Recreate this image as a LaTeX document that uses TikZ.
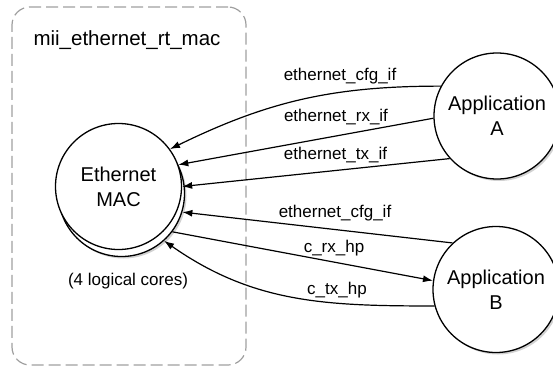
\documentclass[tikz,border=0pt]{standalone}
\usepackage{fontspec}
\setmainfont{Liberation Sans}
\usetikzlibrary{arrows.meta,shadows}

\begin{document}
\begin{tikzpicture}[x=1pt, y=1pt,
		proc/.style={circle, draw, line width=1.3pt, fill=white, minimum size=126pt, inner sep=0pt, align=center, font=\fontsize{20}{25}\selectfont},
		procshadow/.style={drop shadow={shadow xshift=2pt, shadow yshift=-2pt, fill=gray!70}},
		link/.style={line width=1.2pt, -{Latex[length=10pt,width=7pt]}},
		lbl/.style={font=\fontsize{17}{20}\selectfont}]
				
				\useasboundingbox (0, 0) rectangle (553, 368);
				
				%Component box
				\node[draw=gray!75, dash pattern=on 12pt off 5pt, line width=1.2pt, rounded corners=18pt, minimum width=234pt, minimum height=358pt] (comp) at (129, 182) {};
				\node[font=\fontsize{20.5}{24}\selectfont] (compname) at (127, 328) {mii\_ethernet\_rt\_mac};
				
				%MAC
				\node[proc, procshadow] (macbk) at (121.5, 174.5) {};
				\node[proc] (mac) at (118.5, 181.5) {Ethernet\\MAC};
				\node[lbl] (cores) at (128, 87) {(4 logical cores)};
				
				%Applications
				\node[proc, procshadow] (appA) at (497, 252) {Application\\A};
				\node[proc, procshadow] (appB) at (496, 78.5) {Application\\B};
				
				%Lines to A
				\draw[link] (appA.152) to[out=180, in=26] (mac.36);
				\draw[link] (appA.182) -- (mac.20);
				\draw[link] (appA.222) -- (mac.0);
				
				%Lines to B
				\draw[link] (appB.133) -- (macbk.-17);
				\draw[link] (macbk.-37) -- (appB.172);
				\draw[link] (appB.195) to[out=180, in=-35] (macbk.-48);
				
				%Labels
				\node[lbl] (cfgA) at (340, 292) {ethernet\_cfg\_if};
				\node[lbl] (rxA) at (336, 250.5) {ethernet\_rx\_if};
				\node[lbl] (txA) at (335.5, 212.5) {ethernet\_tx\_if};
				\node[lbl] (cfgB) at (335, 154.7) {ethernet\_cfg\_if};
				\node[lbl] (rxB) at (334, 119.7) {c\_rx\_hp};
				\node[lbl] (txB) at (337, 78) {c\_tx\_hp};
			\end{tikzpicture}
\end{document}
